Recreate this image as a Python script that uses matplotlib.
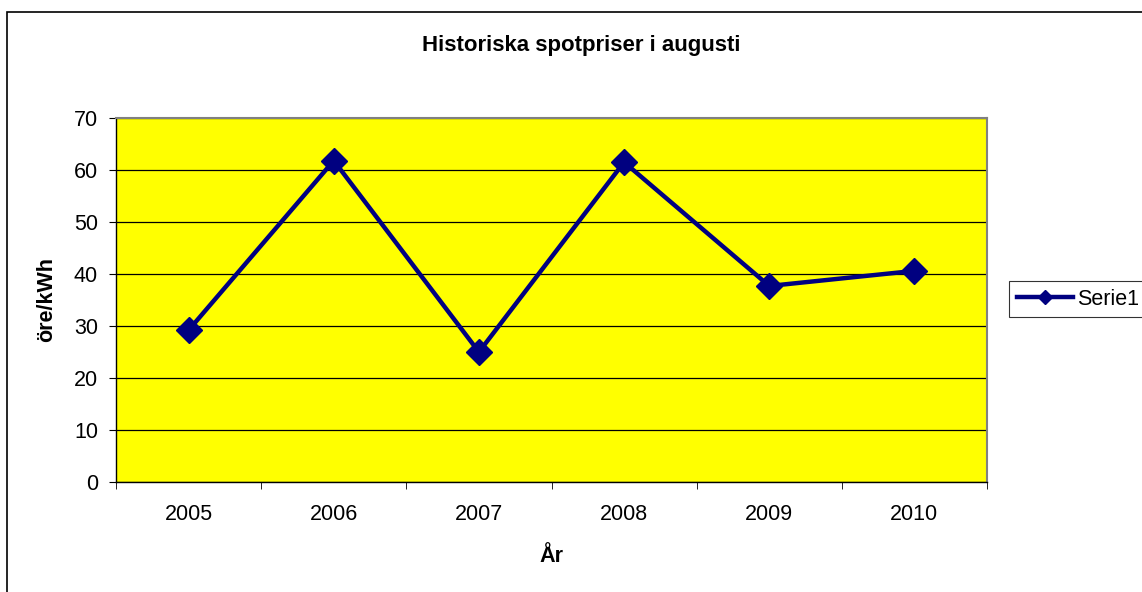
import matplotlib.pyplot as plt
from matplotlib.patches import Rectangle

plt.rcParams['font.family'] = ['Liberation Sans', 'DejaVu Sans']

years = ['2005', '2006', '2007', '2008', '2009', '2010']
prices = [29.2, 61.8, 25.0, 61.5, 37.7, 40.6]
series_name = 'Serie1'

fs = 15.5

fig = plt.figure(figsize=(11.42, 5.92), dpi=100)
# outer chart frame
fig.patches.append(Rectangle((7 / 1142, -0.01), 1.02, 1 - 12 / 592 + 0.01,
                             transform=fig.transFigure, fill=False,
                             edgecolor='black', linewidth=1.2))

ax = fig.add_axes([116 / 1142, 1 - 482 / 592, (987 - 116) / 1142, (482 - 118) / 592])
ax.set_facecolor('#ffff00')

x = range(len(years))
ax.plot(x, prices, color='#000080', linewidth=3.2, marker='D',
        markersize=13, label=series_name)

ax.set_xlim(-0.5, len(years) - 0.5)
ax.set_ylim(0, 70)
ax.set_yticks(range(0, 71, 10))
ax.set_xticks(x)
ax.set_xticklabels(years)
ax.set_xticks([i - 0.5 for i in range(len(years) + 1)], minor=True)
ax.tick_params(axis='x', which='major', length=0, labelsize=fs, pad=16)
ax.tick_params(axis='x', which='minor', length=5, direction='out')
ax.tick_params(axis='y', length=5, direction='out', labelsize=fs, pad=8)
ax.yaxis.grid(True, color='black', linewidth=0.9)
ax.set_axisbelow(True)

for s in ['top', 'right']:
    ax.spines[s].set_color('#808080')
    ax.spines[s].set_linewidth(1.5)
for s in ['left', 'bottom']:
    ax.spines[s].set_color('black')
    ax.spines[s].set_linewidth(1.0)

ax.set_xlabel('År', fontsize=fs, fontweight='bold', labelpad=15)
ax.set_ylabel('öre/kWh', fontsize=fs, fontweight='bold', labelpad=12)
fig.text(581 / 1142, 1 - 45 / 592, 'Historiska spotpriser i augusti',
         ha='center', va='center', fontsize=16, fontweight='bold')

leg = fig.legend(loc='upper left', bbox_to_anchor=(1009 / 1142, 1 - 281 / 592),
                 fontsize=fs, frameon=True, fancybox=False, edgecolor='black',
                 handlelength=2.6, borderpad=0.35, handletextpad=0.2,
                 borderaxespad=0)
leg.get_frame().set_linewidth(0.8)
for h in leg.legend_handles:
    h.set_markersize(7)

fig.savefig('out.png', dpi=100)
